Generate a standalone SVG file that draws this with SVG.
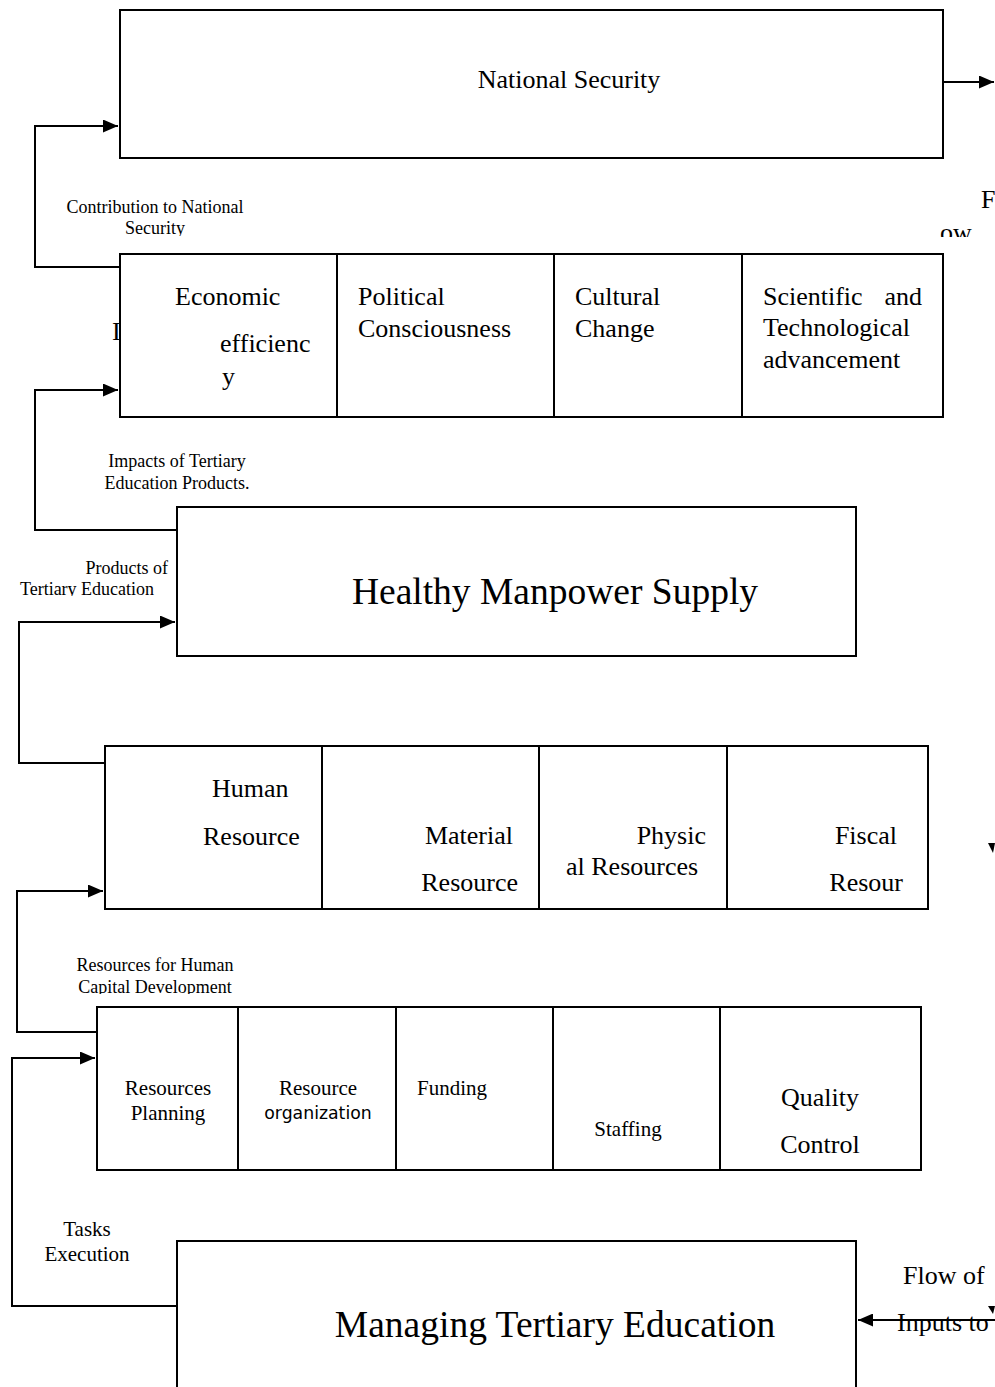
<svg xmlns="http://www.w3.org/2000/svg" width="995" height="1387" viewBox="0 0 995 1387">
<style>
.box{fill:#fff;stroke:#000;stroke-width:2}
.div{stroke:#000;stroke-width:2}
.con{fill:none;stroke:#000;stroke-width:2}
text{font-family:"Liberation Serif",serif;fill:#000}
.sm{font-size:18px}
.md{font-size:26px}
.lg{font-size:37.5px}
.s17{font-size:21px}
.sans{font-family:"DejaVu Sans","Liberation Sans",sans-serif;font-size:17.3px}
</style>
<defs>
<marker id="ah" markerWidth="15" markerHeight="13" refX="15" refY="6.5" orient="auto" markerUnits="userSpaceOnUse">
<path d="M0,0 L15,6.5 L0,13 Z" fill="#000"/>
</marker>
<clipPath id="clipOw"><rect x="900" y="220" width="95" height="17"/></clipPath>
<clipPath id="clipSec"><rect x="0" y="215" width="400" height="21"/></clipPath>
<clipPath id="clipTE"><rect x="0" y="575" width="200" height="21"/></clipPath>
<clipPath id="clipCD"><rect x="0" y="975" width="300" height="19"/></clipPath>
</defs>

<g id="connectors">
<path class="con" d="M120,267 H35 V126 H118" marker-end="url(#ah)"/>
<path class="con" d="M177,530 H35 V390 H118" marker-end="url(#ah)"/>
<path class="con" d="M105,763 H19 V622 H175" marker-end="url(#ah)"/>
<path class="con" d="M97,1032 H17 V891 H103" marker-end="url(#ah)"/>
<path class="con" d="M177,1306 H12 V1058 H95" marker-end="url(#ah)"/>
<path class="con" d="M943,82 H994" marker-end="url(#ah)"/>
<path class="con" d="M995,1320 H858" marker-end="url(#ah)"/>
<polygon points="988,843 995,843 993,853" fill="#000"/>
<polygon points="988,1306 995,1306 993,1314" fill="#000"/>
</g>

<g id="lbl-contribution">
<text class="sm" x="155" y="213" text-anchor="middle">Contribution to National</text>
<text class="sm" x="155" y="234" text-anchor="middle" clip-path="url(#clipSec)">Security</text>
</g>
<g id="lbl-impacts">
<text class="sm" x="177" y="467" text-anchor="middle">Impacts of Tertiary</text>
<text class="sm" x="177" y="489" text-anchor="middle">Education Products.</text>
</g>
<g id="lbl-products">
<text class="sm" x="168" y="574" text-anchor="end">Products of</text>
<text class="sm" x="87" y="595" text-anchor="middle" clip-path="url(#clipTE)">Tertiary Education</text>
</g>
<g id="lbl-resources">
<text class="sm" x="155" y="971" text-anchor="middle">Resources for Human</text>
<text class="sm" x="155" y="993" text-anchor="middle" clip-path="url(#clipCD)">Capital Development</text>
</g>
<g id="lbl-tasks">
<text class="s17" x="87" y="1236" text-anchor="middle">Tasks</text>
<text class="s17" x="87" y="1261" text-anchor="middle">Execution</text>
</g>
<g id="lbl-flow">
<text class="md" x="981" y="208">F</text>
<text class="md" x="940" y="241" clip-path="url(#clipOw)">ow</text>
<text class="md" x="903" y="1284">Flow of</text>
<text class="md" x="897" y="1331">Inputs to</text>
</g>

<g id="national-security">
<rect class="box" x="120" y="10" width="823" height="148"/>
<text class="md" x="569" y="88" text-anchor="middle">National Security</text>
</g>

<g id="impacts-row">
<text class="md" x="112" y="340">I</text>
<rect class="box" x="120" y="254" width="823" height="163"/>
<line class="div" x1="337" y1="254" x2="337" y2="417"/>
<line class="div" x1="554" y1="254" x2="554" y2="417"/>
<line class="div" x1="742" y1="254" x2="742" y2="417"/>
<text class="md" x="175" y="305">Economic</text>
<text class="md" x="220" y="352">efficienc</text>
<text class="md" x="222" y="385">y</text>
<text class="md" x="358" y="305">Political</text>
<text class="md" x="358" y="337">Consciousness</text>
<text class="md" x="575" y="305">Cultural</text>
<text class="md" x="575" y="337">Change</text>
<text class="md" x="763" y="305">Scientific</text>
<text class="md" x="922" y="305" text-anchor="end">and</text>
<text class="md" x="763" y="336">Technological</text>
<text class="md" x="763" y="368">advancement</text>
</g>

<g id="healthy-manpower">
<rect class="box" x="177" y="507" width="679" height="149"/>
<text class="lg" x="555" y="604" text-anchor="middle">Healthy Manpower Supply</text>
</g>

<g id="resources-row">
<rect class="box" x="105" y="746" width="823" height="163"/>
<line class="div" x1="322" y1="746" x2="322" y2="909"/>
<line class="div" x1="539" y1="746" x2="539" y2="909"/>
<line class="div" x1="727" y1="746" x2="727" y2="909"/>
<text class="md" x="212" y="797">Human</text>
<text class="md" x="203" y="845">Resource</text>
<text class="md" x="513" y="844" text-anchor="end">Material</text>
<text class="md" x="518" y="891" text-anchor="end">Resource</text>
<text class="md" x="706" y="844" text-anchor="end">Physic</text>
<text class="md" x="566" y="875">al Resources</text>
<text class="md" x="897" y="844" text-anchor="end">Fiscal</text>
<text class="md" x="903" y="891" text-anchor="end">Resour</text>
</g>

<g id="tasks-row">
<rect class="box" x="97" y="1007" width="824" height="163"/>
<line class="div" x1="238" y1="1007" x2="238" y2="1170"/>
<line class="div" x1="396" y1="1007" x2="396" y2="1170"/>
<line class="div" x1="553" y1="1007" x2="553" y2="1170"/>
<line class="div" x1="720" y1="1007" x2="720" y2="1170"/>
<text class="s17" x="168" y="1095" text-anchor="middle">Resources</text>
<text class="s17" x="168" y="1120" text-anchor="middle">Planning</text>
<text class="s17" x="318" y="1095" text-anchor="middle">Resource</text>
<text class="sans" x="318" y="1119" text-anchor="middle">organization</text>
<text class="s17" x="417" y="1095">Funding</text>
<text class="s17" x="628" y="1136" text-anchor="middle">Staffing</text>
<text class="md" x="820" y="1106" text-anchor="middle">Quality</text>
<text class="md" x="820" y="1153" text-anchor="middle">Control</text>
</g>

<g id="managing">
<rect class="box" x="177" y="1241" width="679" height="160"/>
<text class="lg" x="555" y="1337" text-anchor="middle">Managing Tertiary Education</text>
</g>
</svg>
